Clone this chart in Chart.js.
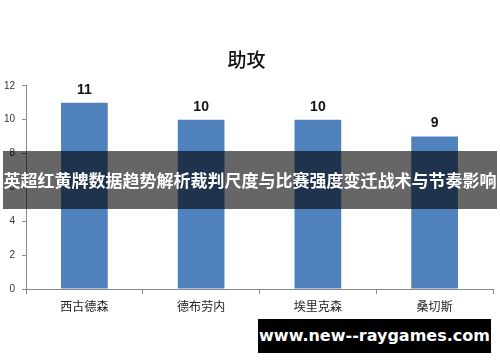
<!DOCTYPE html>
<html>
<head>
<meta charset="utf-8">
<script src="https://cdn.jsdelivr.net/npm/chart.js@4"></script>
<style>
  html, body { margin: 0; padding: 0; background: #fff; }
  #wrap { position: relative; width: 500px; height: 362px; }
  #banner {
    position: absolute; left: 3px; top: 151px; width: 494px; height: 58px;
    background: rgba(0, 0, 0, 0.6); color: #fff;
    font: bold 17px "Noto Sans CJK SC", sans-serif;
    line-height: 58px; text-align: center; white-space: nowrap;
  }
  #site {
    position: absolute; left: 258px; top: 319px; width: 233px; height: 34px;
    background: #000; color: #fff;
    font: bold 16px "DejaVu Sans", sans-serif;
    line-height: 34px; text-align: center;
  }
</style>
</head>
<body>
<div id="wrap">
  <canvas id="assistChart" width="500" height="362"></canvas>
  <div id="banner">英超红黄牌数据趋势解析裁判尺度与比赛强度变迁战术与节奏影响</div>
  <div id="site">www.new--raygames.com</div>
</div>
<script>
const players = ['西古德森', '德布劳内', '埃里克森', '桑切斯'];
const assists = [11, 10, 10, 9];
const yTicks = [0, 2, 4, 6, 8, 10, 12];

// draw the value above each bar
const valueLabels = {
    id: 'valueLabels',
    afterDatasetsDraw(chart) {
        const ctx = chart.ctx;
        const meta = chart.getDatasetMeta(0);
        ctx.save();
        ctx.font = 'bold 14px "Liberation Sans", sans-serif';
        ctx.fillStyle = '#111';
        ctx.textAlign = 'center';
        ctx.textBaseline = 'bottom';
        meta.data.forEach((bar, i) => {
            ctx.fillText(String(assists[i]), bar.x, bar.y - 6);
        });
        ctx.restore();
    }
};

const ctx = document.getElementById('assistChart').getContext('2d');
new Chart(ctx, {
    type: 'bar',
    data: {
        labels: players,
        datasets: [{
            label: '助攻',
            data: assists,
            backgroundColor: '#4F81BD',
            barPercentage: 0.4,
            categoryPercentage: 1.0
        }]
    },
    options: {
        responsive: false,
        animation: false,
        layout: { padding: { left: 0, right: 7, top: 0, bottom: 0 } },
        plugins: {
            legend: { display: false },
            tooltip: { enabled: false },
            title: {
                display: true,
                text: '助攻',
                color: '#111',
                font: { family: '"Noto Sans CJK SC", sans-serif', size: 19, weight: '500', lineHeight: 1.2 },
                padding: { top: 48, bottom: 15 }
            }
        },
        scales: {
            x: {
                grid: { display: true, drawOnChartArea: false, drawTicks: true, tickLength: 5, offset: true, color: '#888' },
                border: { color: '#888' },
                ticks: {
                    color: '#222',
                    padding: 5,
                    font: { family: '"Noto Sans CJK SC", sans-serif', size: 12 }
                },
                afterFit(scale) { scale.height = 73; }
            },
            y: {
                min: 0,
                max: 12,
                afterBuildTicks(scale) { scale.ticks = yTicks.map(v => ({ value: v })); },
                grid: { display: true, drawOnChartArea: false, drawTicks: true, tickLength: 4, color: '#888' },
                border: { color: '#888' },
                ticks: {
                    color: '#333',
                    padding: 7,
                    font: { family: '"Liberation Sans", sans-serif', size: 10 }
                },
                afterFit(scale) { scale.width = 26; }
            }
        }
    },
    plugins: [valueLabels]
});
</script>
</body>
</html>
